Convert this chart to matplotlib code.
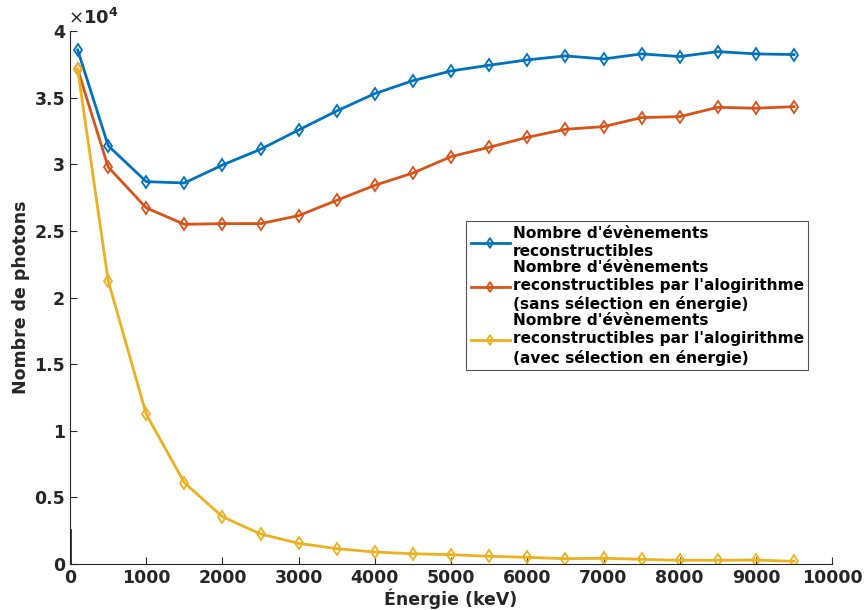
import matplotlib
matplotlib.use("Agg")
import matplotlib.pyplot as plt
import numpy as np
from matplotlib.ticker import FuncFormatter

energy = [100, 500, 1000, 1500, 2000, 2500, 3000, 3500, 4000, 4500,
          5000, 5500, 6000, 6500, 7000, 7500, 8000, 8500, 9000, 9500]
reconstructibles = [38590, 31400, 28700, 28600, 29950, 31130, 32580, 34010, 35310, 36280,
                    37010, 37440, 37840, 38140, 37910, 38290, 38090, 38460, 38290, 38240]
algo_sans_sel = [37140, 29800, 26730, 25500, 25550, 25550, 26150, 27300, 28430, 29350,
                 30580, 31280, 32030, 32630, 32830, 33510, 33580, 34280, 34210, 34330]
algo_avec_sel = [37140, 21270, 11240, 6100, 3550, 2250, 1550, 1150, 900, 770,
                 700, 580, 500, 400, 430, 350, 280, 280, 300, 200]

labels = ["Nombre d'évènements\nreconstructibles",
          "Nombre d'évènements\nreconstructibles par l'alogirithme\n(sans sélection en énergie)",
          "Nombre d'évènements\nreconstructibles par l'alogirithme\n(avec sélection en énergie)"]
colors = ["#0072BD", "#D95319", "#EDB120"]
xticks = list(range(0, 10001, 1000))
yticks = [0, 5000, 10000, 15000, 20000, 25000, 30000, 35000, 40000]

dark = "#262626"
fig = plt.figure(figsize=(8.65, 6.10), dpi=100)
ax = fig.add_axes([0.081, 0.0754, 0.881, 0.8736])

for ys, c, lab in zip([reconstructibles, algo_sans_sel, algo_avec_sel], colors, labels):
    ax.plot(energy, ys, color=c, lw=2, marker='d', markersize=6.5,
            markerfacecolor='none', markeredgecolor=c, markeredgewidth=1.3, label=lab)

ax.set_xlim(0, 10000)
ax.set_ylim(0, 40000)
ax.set_xticks(xticks)
ax.set_yticks(yticks)
ax.yaxis.set_major_formatter(FuncFormatter(lambda v, p: ('%g' % (v / 1e4))))
for s in ['top', 'right']:
    ax.spines[s].set_visible(False)
for s in ['left', 'bottom']:
    ax.spines[s].set_color(dark)
    ax.spines[s].set_linewidth(0.8)
ax.tick_params(direction='in', length=5, width=0.8, colors=dark, labelsize=12.5)
for t in ax.get_xticklabels() + ax.get_yticklabels():
    t.set_fontweight('bold')
ax.axvline(0, ymin=0, ymax=0.063, color=dark, lw=2)

ax.set_xlabel("Énergie (keV)", fontsize=12.5, fontweight='bold', color=dark, labelpad=1)
ax.set_ylabel("Nombre de photons", fontsize=12.5, fontweight='bold', color=dark, labelpad=3)
ax.text(-0.003, 1.006, r'$\times\mathbf{10^{4}}$', transform=ax.transAxes, fontsize=13,
        color=dark, ha='left', va='bottom')

leg = ax.legend(loc='upper left', bbox_to_anchor=(0.520, 0.643), frameon=True, fancybox=False,
                edgecolor=dark, handlelength=2.5, handletextpad=0.2, borderpad=0.3,
                labelspacing=0.05, prop={'weight': 'bold', 'size': 11.1}, borderaxespad=0)
leg.get_frame().set_linewidth(0.8)
for t in leg.get_texts():
    t.set_linespacing(1.26)
for h in leg.legend_handles:
    h.set_markersize(5)

fig.savefig("out.png", dpi=100)
